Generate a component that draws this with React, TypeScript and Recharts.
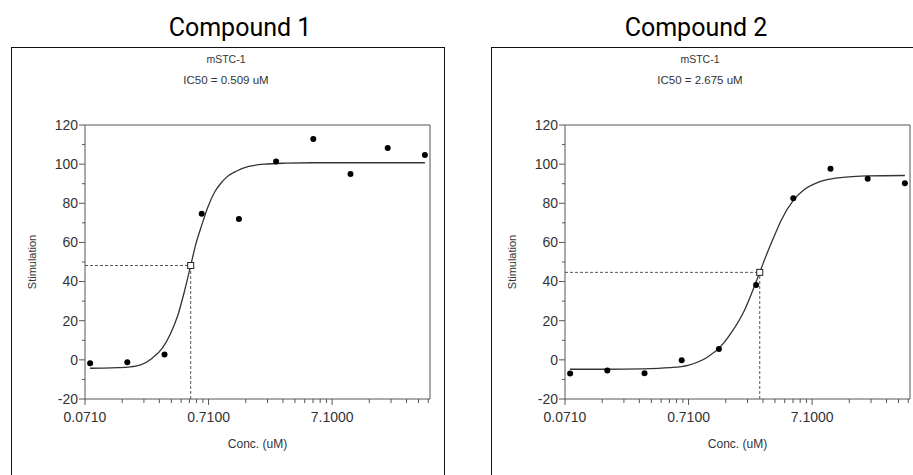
import React from 'react';
import { ComposedChart, Line, Scatter, XAxis, YAxis, ReferenceLine } from 'recharts';

// measured concentrations (uM), 2-fold dilution series
const conc = [0.078125, 0.15625, 0.3125, 0.625, 1.25, 2.5, 5, 10, 20, 40];

// Compound 1 response
const stim1 = [-1.7, -1.2, 2.8, 74.6, 72.0, 101.3, 112.9, 94.9, 108.3, 104.7];
// Compound 2 response
const stim2 = [-7.0, -5.5, -6.8, -0.2, 5.6, 38.2, 82.6, 97.6, 92.5, 90.3];

// fitted curves
const fitConc1 = [0.078, 0.1, 0.13, 0.16, 0.2, 0.25, 0.3, 0.35, 0.4, 0.45, 0.509, 0.56, 0.63, 0.7, 0.8, 0.9, 1.0, 1.2, 1.5, 2, 3, 5, 10, 20, 40];
const fitStim1 = [-4.3, -4.2, -4.0, -3.7, -2.6, 1.0, 6.0, 13.5, 22.7, 34.3, 48.2, 59.1, 69.5, 78.0, 86.0, 90.5, 93.5, 96.5, 98.8, 100.0, 100.5, 100.7, 100.7, 100.7, 100.7];
const fitConc2 = [0.078, 0.15, 0.3, 0.5, 0.7, 1.0, 1.3, 1.6, 2.0, 2.3, 2.675, 3.0, 3.5, 4, 5, 6, 8, 10, 15, 20, 40];
const fitStim2 = [-4.8, -4.8, -4.6, -4.0, -2.8, 1.2, 7.0, 14.5, 25.0, 34.0, 44.7, 52.9, 63.1, 71.5, 81.5, 86.5, 90.8, 92.4, 93.6, 94.0, 94.2];

// IC50 values and the response level at the IC50
const ic50 = [0.509, 2.675];
const ic50Level = [48.2, 44.7];

const majorTicksX = [0.071, 0.71, 7.1];
const minorTicksX = [0.142, 0.213, 0.284, 0.355, 0.426, 0.497, 0.568, 0.639, 1.42, 2.13, 2.84, 3.55, 4.26, 4.97, 5.68, 6.39, 14.2, 21.3, 28.4, 35.5, 42.6];
const ticksY = [-20, -10, 0, 10, 20, 30, 40, 50, 60, 70, 80, 90, 100, 110, 120];
const labelTicksY = [-20, 0, 20, 40, 60, 80, 100, 120];

const X_MIN = 0.071;
const X_MAX = 44;
const AXIS = '#555';
const TEXT = '#333';
const FONT = '"Liberation Sans", Arial, sans-serif';

const XTick = (props: any) => {
  const { x, y, payload } = props;
  const major = majorTicksX.includes(payload.value);
  return (
    <g>
      <line x1={x} x2={x} y1={y} y2={y + (major ? 6 : 4)} stroke={AXIS} />
      {major && (
        <text x={x} y={y + 23} textAnchor="middle" fontSize={14} fill={TEXT} fontFamily={FONT}>
          {payload.value.toFixed(4)}
        </text>
      )}
    </g>
  );
};

const YTick = (props: any) => {
  const { x, y, payload } = props;
  const major = labelTicksY.includes(payload.value);
  return (
    <g>
      <line x1={x - (major ? 6 : 3)} x2={x} y1={y} y2={y} stroke={AXIS} />
      {major && (
        <text x={x - 7} y={y} dy="0.35em" textAnchor="end" fontSize={14} fill={TEXT} fontFamily={FONT}>
          {payload.value}
        </text>
      )}
    </g>
  );
};

const Dot = (p: any) => <circle cx={p.cx} cy={p.cy} r={3} fill="#000" />;
const Square = (p: any) => (
  <rect x={p.cx - 3} y={p.cy - 3} width={6} height={6} fill="#fff" stroke="#222" strokeWidth={1} />
);

type PanelProps = {
  title: string;
  idx: number;
  stim: number[];
  fitConc: number[];
  fitStim: number[];
  boxLeft: number;
  boxWidth: number;
  chartWidth: number;
  titleX: number;
  textX: number;
};

const Panel = ({ title, idx, stim, fitConc, fitStim, boxLeft, boxWidth, chartWidth, titleX, textX }: PanelProps) => {
  const points = conc.map((c, i) => ({ x: c, y: stim[i] }));
  const fit = fitConc.map((c, i) => ({ x: c, y: fitStim[i] }));
  const ic = ic50[idx];
  const lvl = ic50Level[idx];
  return (
    <>
      <div
        style={{
          position: 'absolute', left: titleX - 100, top: 12, width: 200, textAlign: 'center',
          fontFamily: 'Roboto, sans-serif', fontSize: 25, fontWeight: 400, lineHeight: '32px', color: '#000',
        }}
      >
        {title}
      </div>
      <div
        style={{
          position: 'absolute', left: boxLeft - 1, top: 47, width: boxWidth, height: 440,
          border: '1.5px solid #111', boxSizing: 'border-box',
        }}
      />
      <div style={{ position: 'absolute', left: textX - 80, top: 53, width: 160, textAlign: 'center', fontFamily: FONT, fontSize: 10.5, color: TEXT }}>
        mSTC-1
      </div>
      <div style={{ position: 'absolute', left: textX - 80, top: 74, width: 160, textAlign: 'center', fontFamily: FONT, fontSize: 11.5, color: TEXT }}>
        IC50 = {ic.toFixed(3)} uM
      </div>
      <div style={{ position: 'absolute', left: boxLeft, top: 48 }}>
        <ComposedChart width={chartWidth} height={427} margin={{ top: 77, right: chartWidth - 418, bottom: 36, left: 0 }}>
          <XAxis
            type="number"
            dataKey="x"
            scale="log"
            domain={[X_MIN, X_MAX]}
            allowDataOverflow
            ticks={[...majorTicksX, ...minorTicksX]}
            interval={0}
            tick={<XTick />}
            tickSize={0}
            tickMargin={0}
            height={40}
            stroke={AXIS}
            label={{ value: 'Conc. (uM)', position: 'bottom', offset: 0, fontSize: 12, fill: TEXT, fontFamily: FONT }}
          />
          <YAxis
            type="number"
            dataKey="y"
            domain={[-20, 120]}
            allowDataOverflow
            ticks={ticksY}
            interval={0}
            tick={<YTick />}
            tickSize={0}
            tickMargin={0}
            width={73}
            stroke={AXIS}
            label={{ value: 'Stimulation', angle: -90, position: 'insideLeft', offset: 20, fontSize: 11, fill: TEXT, fontFamily: FONT, style: { textAnchor: 'middle' } }}
          />
          <ReferenceLine y={120} stroke={AXIS} />
          <ReferenceLine x={X_MAX} stroke={AXIS} />
          <ReferenceLine segment={[{ x: X_MIN, y: lvl }, { x: ic, y: lvl }]} stroke="#555" strokeDasharray="3 2" />
          <ReferenceLine segment={[{ x: ic, y: -20 }, { x: ic, y: lvl }]} stroke="#555" strokeDasharray="3 2" />
          <Line data={fit} dataKey="y" type="monotone" stroke="#333" strokeWidth={1.3} dot={false} isAnimationActive={false} />
          <Scatter data={points} dataKey="y" shape={Dot} isAnimationActive={false} />
          <Scatter data={[{ x: ic, y: lvl }]} dataKey="y" shape={Square} isAnimationActive={false} />
        </ComposedChart>
      </div>
    </>
  );
};

export default function App() {
  return (
    <div style={{ position: 'absolute', left: 0, top: 0, width: 913, height: 475, overflow: 'hidden', background: '#fff' }}>
      <Panel title="Compound 1" idx={0} stim={stim1} fitConc={fitConc1} fitStim={fitStim1}
        boxLeft={12} boxWidth={434} chartWidth={433} titleX={240} textX={226} />
      <Panel title="Compound 2" idx={1} stim={stim2} fitConc={fitConc2} fitStim={fitStim2}
        boxLeft={492} boxWidth={440} chartWidth={421} titleX={696} textX={700} />
    </div>
  );
}
